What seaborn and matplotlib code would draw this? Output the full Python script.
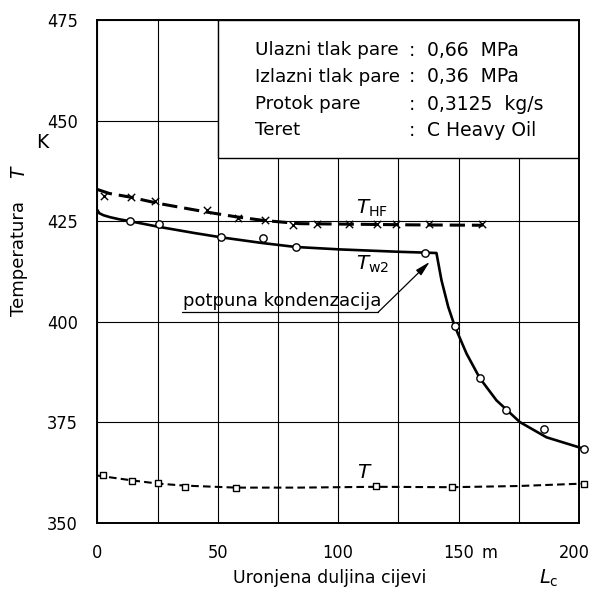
import matplotlib
matplotlib.use("Agg")
import matplotlib.pyplot as plt
import seaborn as sns
import pandas as pd
from matplotlib.patches import Rectangle
from matplotlib import font_manager
from matplotlib.transforms import ScaledTranslation

# ---------------- data ----------------
# T_HF : smooth dashed curve + "x" measurement points
thf_curve_L = [0, 5, 13.6, 25.6, 45.2, 57.6, 69, 84, 100, 130, 160]
thf_curve_T = [432.9, 431.9, 431.0, 429.4, 427.3, 426.1, 425.2, 424.4, 424.3, 424.1, 424.0]
thf_pts_L = [2.7, 14.0, 24.0, 45.6, 58.4, 69.7, 81.2, 91.4, 104.3, 116.0, 124.2, 137.7, 159.6]
thf_pts_T = [431.2, 431.0, 430.1, 427.9, 425.9, 425.2, 424.1, 424.4, 424.4, 424.4, 424.4, 424.4, 424.4]

# T_w2 : solid curve + open circles
tw2_curve_L = [0, 0.8, 2.5, 5.3, 9, 13.6, 25.6, 40, 51.4, 68.3, 82.4, 100.6, 125.5, 136, 140.8,
               142.9, 145.7, 148.4, 153.3, 158.8, 165.7, 175.4, 186.5, 201.7]
tw2_curve_T = [427.8, 427.0, 426.5, 426.0, 425.5, 425.0, 423.6, 422.1, 421.0, 419.6, 418.6, 418.0, 417.4, 417.2, 417.1,
               410.3, 403.7, 398.9, 392.1, 386.0, 380.5, 375.1, 371.3, 368.5]
tw2_pts_L = [13.6, 25.7, 51.4, 68.6, 82.4, 136.0, 148.6, 158.8, 169.8, 185.3, 202.0]
tw2_pts_T = [425.1, 424.3, 421.2, 420.8, 418.7, 417.1, 399.0, 386.1, 378.2, 373.4, 368.5]

# T : short-dashed curve + open squares
t_curve_L = [0, 14.3, 25.2, 36, 57.6, 84, 115.6, 147, 175, 202]
t_curve_T = [361.8, 360.6, 359.8, 359.3, 358.8, 358.8, 359.0, 358.9, 359.2, 359.8]
t_pts_L = [2.3, 14.3, 25.2, 36.2, 57.7, 115.6, 147.2, 202.0]
t_pts_T = [362.0, 360.4, 359.9, 358.9, 358.8, 359.1, 358.9, 359.8]

x_ticks = [0, 25, 50, 75, 100, 125, 150, 175, 200]
x_ticklabels = ["0", "", "50", "", "100", "", "150", "", "200"]
y_ticks = [350, 375, 400, 425, 450, 475]

info_labels = ["Ulazni tlak pare", "Izlazni tlak pare", "Protok pare", "Teret"]
info_values = ["0,66  MPa", "0,36  MPa", "0,3125  kg/s", "C Heavy Oil"]

# ---------------- style ----------------
sns.set_style("white")
plt.rcParams["font.family"] = ["DejaVu Sans"]
plt.rcParams["mathtext.fontset"] = "dejavusans"
plt.rcParams["lines.scale_dashes"] = False
for k in ["text.color", "axes.labelcolor", "xtick.color", "ytick.color"]:
    plt.rcParams[k] = "black"

# narrow font for the tick digits if one is installed
names = {f.name for f in font_manager.fontManager.ttflist}
if "Liberation Sans Narrow" in names:
    tick_font = dict(family="Liberation Sans Narrow", size=14)
else:
    cond = [f for f in font_manager.fontManager.ttflist
            if f.name == "DejaVu Sans" and "ondensed" in str(f.stretch) + f.fname]
    if cond:
        tick_font = dict(family="DejaVu Sans", stretch="condensed", size=13)
    else:
        tick_font = dict(family="Roboto", size=12.5)

FS = 13.5

fig = plt.figure(figsize=(5.92, 6.02), dpi=100)
ax = fig.add_axes([0.1644, 0.1312, 0.8137, 0.8355])

df_thf = pd.DataFrame({"L": thf_curve_L, "T": thf_curve_T})
df_tw2 = pd.DataFrame({"L": tw2_curve_L, "T": tw2_curve_T})
df_t = pd.DataFrame({"L": t_curve_L, "T": t_curve_T})

sns.lineplot(data=df_thf, x="L", y="T", sort=False, estimator=None, color="black", lw=2.2, ax=ax)
ax.lines[-1].set_dashes((11, 5))
sns.lineplot(data=df_tw2, x="L", y="T", sort=False, estimator=None, color="black", lw=1.9, ax=ax)
ax.lines[-1].set_clip_on(False)
sns.lineplot(data=df_t, x="L", y="T", sort=False, estimator=None, color="black", lw=1.5, ax=ax)
ax.lines[-1].set_dashes((5.5, 3))
ax.lines[-1].set_clip_on(False)
for ln in ax.lines:
    ln.set_zorder(3)

sns.scatterplot(x=thf_pts_L, y=thf_pts_T, marker="x", s=28, color="black", linewidth=1.0, ax=ax, zorder=4)
sns.scatterplot(x=tw2_pts_L, y=tw2_pts_T, marker="o", s=28, facecolor="white", edgecolor="black",
                linewidth=1.0, ax=ax, zorder=4)
ax.collections[-1].set_clip_on(False)
sns.scatterplot(x=t_pts_L, y=t_pts_T, marker="s", s=18, facecolor="white", edgecolor="black",
                linewidth=1.0, ax=ax, zorder=4)
ax.collections[-1].set_clip_on(False)

ax.set_xlim(0, 200)
ax.set_ylim(350, 475)
ax.set_xticks(x_ticks)
ax.set_xticklabels(x_ticklabels, fontdict=tick_font)
ax.set_yticks(y_ticks)
ax.set_yticklabels([str(v) for v in y_ticks], fontdict=tick_font)
ax.tick_params(length=0)
ax.tick_params(axis="x", pad=15)
ax.tick_params(axis="y", pad=14)
# keep the last x label inside the figure edge
last = ax.get_xticklabels()[-1]
last.set_transform(last.get_transform() + ScaledTranslation(-3.5 / 72, 0, fig.dpi_scale_trans))
ax.set_xlabel("")
ax.set_ylabel("")
ax.set_axisbelow(True)
ax.grid(True, color="black", lw=0.8)
for sp in ax.spines.values():
    sp.set_color("black")
    sp.set_linewidth(1.4)

# info box
ax.add_patch(Rectangle((50, 440.7), 150, 34.3, facecolor="white", edgecolor="black", lw=1.0, zorder=1.5))
rows = [467.5, 460.9, 454.1, 447.6]
for yv, lab, val in zip(rows, info_labels, info_values):
    ax.text(65.4, yv, lab, fontsize=13.2, ha="left", va="center", zorder=5)
    ax.text(130.6, yv, ":", fontsize=FS, ha="center", va="center", zorder=5)
    ax.text(136.7, yv, val, fontsize=FS, ha="left", va="center", zorder=5)

# curve labels
ax.text(107.5, 428.2, r"$T_{\mathrm{HF}}$", fontsize=FS + 1, ha="left", va="center", zorder=5)
ax.text(107.6, 414.4, r"$T_{\mathrm{w2}}$", fontsize=FS + 1, ha="left", va="center", zorder=5)
ax.text(107.8, 362.6, r"$T$", fontsize=FS + 1, ha="left", va="center", zorder=5)

# annotation
ax.text(35.5, 403.9, "potpuna kondenzacija", fontsize=13, ha="left", va="baseline", zorder=5)
ax.plot([35.0, 116.6], [402.4, 402.4], color="black", lw=0.9, zorder=5)
ax.annotate("", xy=(138.0, 414.9), xytext=(116.6, 402.4),
            arrowprops=dict(arrowstyle="-|>,head_length=0.9,head_width=0.22", color="black", lw=0.9,
                            shrinkA=0, shrinkB=0), zorder=5)

# axis texts
fig.text(489 / 592, 1 - 552.5 / 602, "m", fontdict=tick_font, ha="center", va="center")
fig.text(19 / 592, 1 - 259 / 602, "Temperatura", rotation=90, fontsize=13, ha="center", va="center")
fig.text(19 / 592, 1 - 172 / 602, "T", rotation=90, fontsize=13.5, style="italic", ha="center", va="center")
fig.text(42 / 592, 1 - 142 / 602, "K", fontsize=13.5, ha="center", va="center")
fig.text(330 / 592, 1 - 578 / 602, "Uronjena duljina cijevi", fontsize=12.5, ha="center", va="center")
fig.text(549 / 592, 1 - 578 / 602, r"$L_{\mathrm{c}}$", fontsize=14, ha="center", va="center")

fig.savefig("out.png", dpi=100, facecolor="white")
